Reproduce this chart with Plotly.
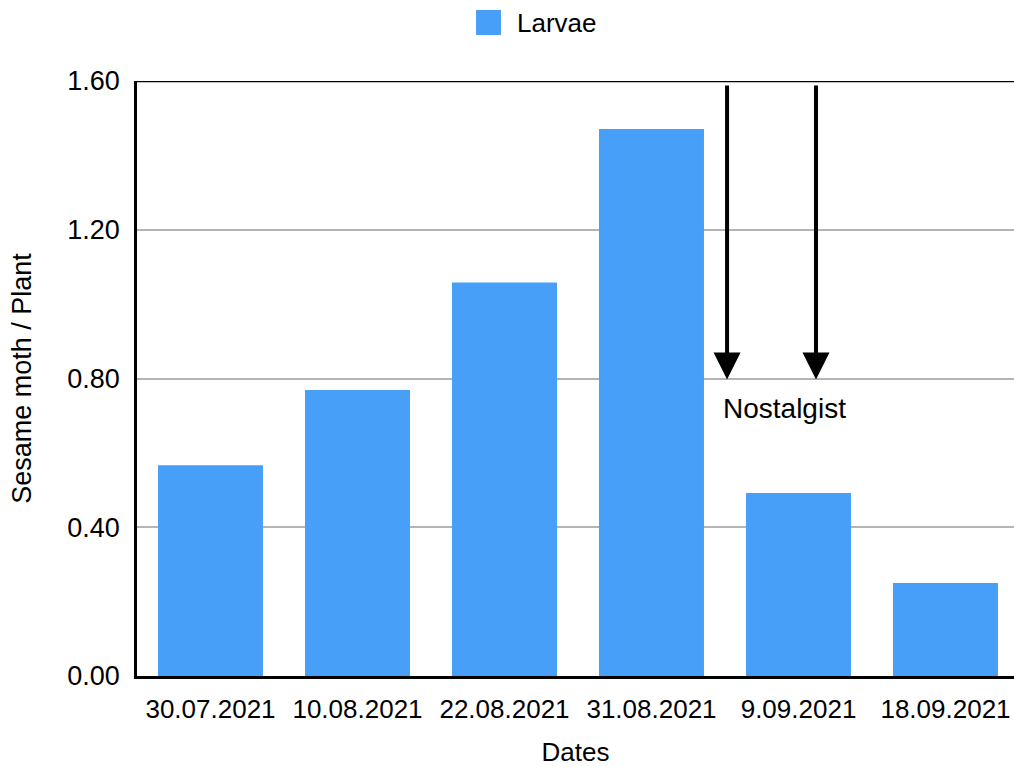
import plotly.graph_objects as go

dates = ["30.07.2021", "10.08.2021", "22.08.2021", "31.08.2021", "9.09.2021", "18.09.2021"]
larvae = [0.567, 0.769, 1.058, 1.471, 0.492, 0.250]
series_name = "Larvae"

# release markers (category-index positions) and their label
release_x = [3.514, 4.119]
release_label = "Nostalgist"
release_label_x = 3.908

FONT = "Liberation Sans, Arial, Helvetica, sans-serif"
BLUE = "#479FF8"

fig = go.Figure()
fig.add_trace(go.Bar(
    x=dates, y=larvae, name=series_name,
    marker=dict(color=BLUE, line=dict(width=0)),
    width=0.714, showlegend=False,
))

for xr in release_x:
    fig.add_annotation(
        x=xr, y=0.797, ax=xr, ay=1.592,
        xref="x", yref="y", axref="x", ayref="y",
        text="", showarrow=True,
        arrowhead=2, arrowsize=1.35, arrowwidth=4, arrowcolor="black",
    )

fig.add_annotation(
    x=release_label_x, y=0.72, xref="x", yref="y",
    text=release_label, showarrow=False,
    font=dict(family=FONT, size=28, color="black"),
)

# top frame line
fig.add_shape(type="line", xref="paper", yref="y", x0=0, x1=1, y0=1.6, y1=1.6,
              line=dict(color="black", width=2.5))

# legend key above the plot
fig.add_shape(type="rect", xref="paper", yref="paper",
              x0=0.3866, x1=0.4151, y0=1.0773, y1=1.1193,
              line=dict(width=0), fillcolor=BLUE)
fig.add_annotation(x=0.4310, y=1.0975, xref="paper", yref="paper",
                   xanchor="left", yanchor="middle", showarrow=False,
                   text=series_name, font=dict(family=FONT, size=26, color="black"))

fig.update_layout(
    width=1014, height=767,
    margin=dict(l=137, r=0, t=81, b=91),
    plot_bgcolor="white", paper_bgcolor="white",
    font=dict(family=FONT, size=26, color="black"),
    showlegend=False,
    bargap=0.286,
)
fig.update_xaxes(
    range=[-0.5, 5.466],
    showline=True, linecolor="black", linewidth=2.5,
    ticks="", ticklabelstandoff=8,
    title=dict(text="Dates", font=dict(size=26), standoff=20),
    tickfont=dict(size=26),
)
fig.update_yaxes(
    range=[0, 1.6], dtick=0.4, tickformat=".2f",
    showline=True, linecolor="black", linewidth=2.5,
    showgrid=True, gridcolor="#b4b4b4", gridwidth=2,
    zeroline=False,
    ticks="", ticklabelstandoff=9,
    title=dict(text="Sesame moth / Plant", font=dict(size=27), standoff=28),
    tickfont=dict(size=27),
)

fig.write_html("out.html")
